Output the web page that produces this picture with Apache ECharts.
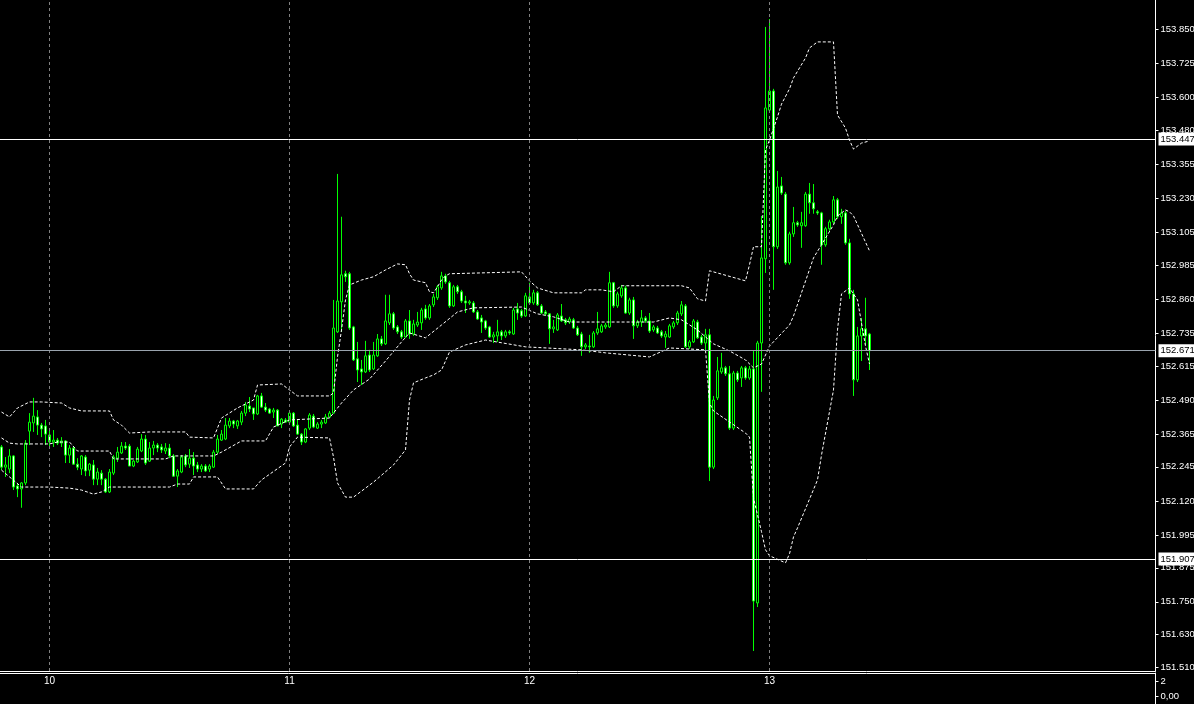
<!DOCTYPE html>
<html><head><meta charset="utf-8">
<script src="https://cdn.jsdelivr.net/npm/echarts@6/dist/echarts.min.js"></script>
<style>html,body{margin:0;padding:0;background:#000;}#c{width:1194px;height:704px;}</style>
</head><body><div id="c"></div>
<script>
// ---- data ----
const slotCount = 289;
const dayLabels = [[12, '10'], [72, '11'], [132, '12'], [192, '13']];
const priceTicks = [153.850, 153.725, 153.600, 153.480, 153.355, 153.230, 153.105, 152.985, 152.860, 152.735,
  152.615, 152.490, 152.365, 152.245, 152.120, 151.995, 151.875, 151.750, 151.630, 151.510];
const subTicks = [0, 2];
const hLines = [153.447, 151.907];
const bidLine = 152.671;
// [open, close, low, high]
const candles = [
[152.318,152.244,152.233,152.325],[152.244,152.252,152.208,152.281],[152.237,152.285,152.222,152.310],[152.285,152.171,152.160,152.288],
[152.175,152.164,152.134,152.186],[152.164,152.186,152.095,152.189],[152.186,152.332,152.178,152.343],[152.376,152.409,152.325,152.442],
[152.406,152.431,152.373,152.498],[152.428,152.398,152.362,152.453],[152.398,152.384,152.354,152.406],[152.395,152.365,152.325,152.417],
[152.362,152.336,152.318,152.380],[152.336,152.343,152.318,152.380],[152.343,152.332,152.325,152.351],[152.332,152.340,152.318,152.354],
[152.340,152.288,152.259,152.343],[152.288,152.314,152.259,152.325],[152.314,152.255,152.252,152.318],[152.255,152.244,152.233,152.277],
[152.237,152.285,152.215,152.288],[152.281,152.230,152.211,152.288],[152.233,152.255,152.211,152.259],[152.252,152.200,152.178,152.270],
[152.200,152.226,152.178,152.241],[152.222,152.200,152.178,152.233],[152.200,152.153,152.149,152.204],[152.153,152.226,152.149,152.237],
[152.222,152.281,152.215,152.288],[152.277,152.299,152.263,152.318],[152.296,152.321,152.292,152.336],[152.321,152.314,152.307,152.336],
[152.321,152.248,152.248,152.329],[152.248,152.266,152.244,152.270],[152.263,152.310,152.259,152.318],[152.303,152.347,152.299,152.365],
[152.347,152.259,152.252,152.362],[152.266,152.314,152.263,152.336],[152.314,152.325,152.288,152.340],[152.325,152.314,152.299,152.332],
[152.318,152.307,152.296,152.329],[152.303,152.314,152.292,152.332],[152.314,152.285,152.277,152.329],[152.285,152.211,152.208,152.292],
[152.211,152.230,152.171,152.237],[152.226,152.281,152.222,152.288],[152.285,152.252,152.244,152.292],[152.255,152.277,152.241,152.310],
[152.277,152.248,152.215,152.299],[152.252,152.237,152.226,152.263],[152.237,152.248,152.226,152.255],[152.248,152.230,152.226,152.255],
[152.237,152.248,152.226,152.255],[152.244,152.299,152.241,152.307],[152.299,152.347,152.292,152.362],[152.343,152.365,152.340,152.380],
[152.347,152.398,152.343,152.424],[152.395,152.413,152.387,152.424],[152.413,152.402,152.387,152.417],[152.395,152.413,152.384,152.417],
[152.409,152.442,152.398,152.450],[152.442,152.472,152.431,152.483],[152.468,152.457,152.446,152.501],[152.461,152.439,152.417,152.461],
[152.439,152.505,152.435,152.509],[152.505,152.464,152.461,152.516],[152.464,152.453,152.446,152.479],[152.457,152.442,152.439,152.461],
[152.446,152.453,152.424,152.461],[152.453,152.395,152.395,152.457],[152.402,152.420,152.387,152.424],[152.417,152.409,152.406,152.424],
[152.409,152.442,152.406,152.453],[152.442,152.395,152.391,152.446],[152.398,152.365,152.362,152.417],[152.365,152.336,152.325,152.369],
[152.336,152.384,152.332,152.387],[152.387,152.435,152.380,152.442],[152.431,152.391,152.387,152.439],[152.387,152.402,152.384,152.409],
[152.402,152.409,152.387,152.417],[152.406,152.428,152.402,152.439],[152.428,152.442,152.424,152.450],[152.442,152.754,152.439,152.857],
[152.740,152.853,152.736,153.319],[152.850,152.949,152.740,153.162],[152.953,152.942,152.923,152.964],[152.953,152.754,152.747,152.960],
[152.758,152.637,152.633,152.762],[152.641,152.600,152.556,152.703],[152.604,152.593,152.545,152.637],[152.593,152.652,152.589,152.707],
[152.655,152.600,152.593,152.674],[152.604,152.655,152.600,152.703],[152.652,152.714,152.648,152.732],[152.714,152.696,152.688,152.725],
[152.696,152.780,152.692,152.876],[152.773,152.806,152.765,152.876],[152.806,152.754,152.747,152.813],[152.758,152.740,152.732,152.765],
[152.740,152.721,152.714,152.747],[152.721,152.780,152.718,152.787],[152.780,152.732,152.714,152.820],[152.732,152.769,152.725,152.784],
[152.765,152.776,152.758,152.813],[152.773,152.820,152.747,152.828],[152.824,152.791,152.784,152.839],[152.791,152.835,152.784,152.842],
[152.839,152.868,152.831,152.879],[152.865,152.905,152.857,152.912],[152.901,152.945,152.894,152.960],[152.945,152.923,152.916,152.953],
[152.920,152.835,152.828,152.927],[152.835,152.905,152.831,152.912],[152.905,152.887,152.879,152.912],[152.887,152.853,152.846,152.894],
[152.853,152.846,152.809,152.872],[152.846,152.850,152.839,152.857],[152.846,152.813,152.809,152.853],[152.813,152.787,152.784,152.820],
[152.791,152.776,152.736,152.802],[152.780,152.754,152.747,152.784],[152.758,152.721,152.718,152.762],[152.721,152.729,152.699,152.740],
[152.725,152.740,152.703,152.784],[152.740,152.725,152.710,152.747],[152.725,152.740,152.718,152.747],[152.740,152.736,152.729,152.747],
[152.732,152.820,152.729,152.828],[152.824,152.809,152.784,152.846],[152.817,152.798,152.791,152.824],[152.798,152.872,152.795,152.883],
[152.868,152.846,152.839,152.920],[152.846,152.883,152.839,152.894],[152.883,152.839,152.835,152.890],[152.835,152.809,152.806,152.842],
[152.813,152.806,152.798,152.820],[152.806,152.751,152.696,152.809],[152.751,152.758,152.736,152.784],[152.747,152.802,152.743,152.809],
[152.798,152.780,152.776,152.842],[152.784,152.773,152.765,152.791],[152.776,152.787,152.769,152.795],[152.784,152.754,152.751,152.791],
[152.754,152.729,152.725,152.762],[152.732,152.685,152.652,152.740],[152.685,152.692,152.677,152.699],[152.688,152.685,152.663,152.729],
[152.685,152.736,152.681,152.743],[152.736,152.751,152.729,152.813],[152.740,152.762,152.736,152.769],[152.758,152.765,152.751,152.773],
[152.758,152.920,152.754,152.960],[152.920,152.835,152.828,152.923],[152.835,152.879,152.828,152.887],[152.872,152.901,152.865,152.912],
[152.901,152.809,152.806,152.909],[152.809,152.857,152.802,152.865],[152.857,152.762,152.714,152.868],[152.762,152.776,152.754,152.784],
[152.776,152.791,152.758,152.820],[152.791,152.780,152.773,152.798],[152.780,152.743,152.736,152.809],[152.747,152.758,152.740,152.765],
[152.754,152.736,152.732,152.762],[152.740,152.725,152.718,152.747],[152.721,152.732,152.681,152.743],[152.721,152.762,152.718,152.769],
[152.758,152.773,152.751,152.780],[152.773,152.809,152.765,152.817],[152.806,152.839,152.798,152.853],[152.835,152.685,152.681,152.842],
[152.685,152.703,152.677,152.710],[152.703,152.780,152.699,152.787],[152.776,152.718,152.714,152.784],[152.721,152.699,152.692,152.729],
[152.699,152.729,152.666,152.751],[152.729,152.244,152.193,152.751],[152.244,152.490,152.237,152.505],[152.498,152.597,152.490,152.648],
[152.593,152.608,152.586,152.663],[152.608,152.586,152.578,152.615],[152.586,152.387,152.380,152.615],[152.387,152.589,152.380,152.597],
[152.589,152.564,152.556,152.597],[152.571,152.608,152.538,152.615],[152.608,152.571,152.564,152.615],[152.571,152.604,152.564,152.615],
[152.604,151.753,151.570,152.670],[151.746,152.699,151.731,152.707],[152.699,153.011,152.520,153.165],[153.008,153.561,152.956,153.858],
[153.553,153.623,153.546,153.887],[153.623,153.052,152.894,153.631],[153.052,153.271,153.044,153.330],[153.275,153.249,153.242,153.308],
[153.245,152.993,152.986,153.253],[152.993,153.099,152.986,153.107],[153.099,153.140,153.088,153.198],[153.140,153.132,153.125,153.147],
[153.129,153.140,153.048,153.180],[153.129,153.245,153.125,153.253],[153.245,153.213,153.173,153.286],[153.213,153.191,153.173,153.282],
[153.180,153.176,153.169,153.187],[153.176,153.059,152.986,153.180],[153.059,153.118,153.052,153.125],[153.118,153.143,153.110,153.151],
[153.143,153.224,153.136,153.238],[153.224,153.162,153.154,153.231],[153.162,153.176,153.136,153.191],[153.176,153.066,153.059,153.184],
[153.066,152.879,152.861,153.081],[152.879,152.564,152.505,152.894],[152.564,152.725,152.556,152.758],[152.725,152.751,152.633,152.791],
[152.751,152.725,152.692,152.865],[152.732,152.671,152.600,152.736]
];
// Bollinger bands: [bar index, price]
const bbUpper = [[0,152.446],[2,152.428],[4,152.461],[7,152.483],[10,152.483],[15,152.479],[17,152.461],[20,152.450],[27,152.450],
[28,152.417],[30,152.398],[32,152.369],[37,152.373],[46,152.373],[47,152.354],[53,152.351],[55,152.424],[59,152.461],[63,152.490],
[64,152.545],[70,152.549],[72,152.527],[74,152.505],[82,152.505],[83,152.516],[84,152.648],[85,152.747],[86,152.857],[87,152.912],
[90,152.930],[93,152.942],[96,152.967],[99,152.989],[101,152.986],[102,152.953],[103,152.930],[106,152.920],[107,152.887],[108,152.883],
[109,152.905],[110,152.930],[111,152.945],[112,152.953],[130,152.960],[132,152.927],[134,152.901],[138,152.883],[145,152.883],[146,152.894],
[150,152.894],[153,152.887],[155,152.909],[170,152.909],[172,152.901],[174,152.861],[176,152.853],[177,152.964],[186,152.927],[187,152.986],
[188,153.052],[190,153.052],[191,153.407],[192,153.443],[194,153.528],[195,153.575],[197,153.631],[198,153.671],[201,153.744],[202,153.781],
[204,153.803],[208,153.803],[209,153.535],[211,153.487],[212,153.443],[213,153.410],[215,153.432],[217,153.440]];
const bbMiddle = [[0,152.351],[2,152.332],[4,152.329],[12,152.329],[14,152.336],[17,152.336],[19,152.303],[27,152.303],[28,152.274],
[41,152.274],[43,152.285],[53,152.285],[55,152.299],[60,152.340],[66,152.340],[68,152.391],[72,152.417],[82,152.424],[85,152.479],
[88,152.527],[92,152.567],[96,152.633],[100,152.703],[102,152.736],[106,152.718],[110,152.765],[114,152.813],[118,152.828],[130,152.831],
[134,152.806],[138,152.795],[142,152.776],[150,152.776],[163,152.776],[167,152.791],[170,152.784],[174,152.747],[178,152.696],[182,152.670],
[186,152.637],[188,152.608],[190,152.622],[192,152.688],[197,152.765],[198,152.798],[203,153.011],[208,153.132],[209,153.165],[211,153.187],
[212,153.180],[213,153.165],[217,153.037]];
const bbLower = [[0,152.233],[5,152.171],[12,152.171],[17,152.167],[20,152.160],[23,152.145],[25,152.153],[27,152.171],[42,152.171],
[44,152.182],[47,152.182],[48,152.208],[54,152.208],[56,152.164],[63,152.164],[65,152.197],[71,152.259],[72,152.318],[74,152.354],
[82,152.351],[83,152.281],[84,152.186],[86,152.134],[88,152.134],[93,152.189],[98,152.252],[101,152.307],[102,152.490],[103,152.553],
[106,152.571],[108,152.582],[110,152.600],[112,152.666],[116,152.692],[121,152.710],[131,152.685],[145,152.674],[151,152.663],[162,152.648],
[167,152.681],[176,152.674],[177,152.479],[178,152.450],[186,152.369],[187,152.354],[188,152.131],[190,152.007],[191,151.941],[192,151.919],
[196,151.893],[197,151.926],[198,151.988],[199,152.021],[204,152.197],[205,152.288],[208,152.527],[209,152.747],[210,152.879],[212,152.901],
[214,152.857],[216,152.688],[217,152.622]];

// ---- chart ----
const labelAt = {};
dayLabels.forEach(d => { labelAt[d[0]] = d[1]; });
const categories = Array.from({length: slotCount}, (_, i) => labelAt[i] || '');
const FONT = '"Liberation Sans", Arial, sans-serif';
function boxLabel(v) {
  return {
    show: true, position: 'end', distance: 3, formatter: () => v.toFixed(3),
    color: '#000', backgroundColor: '#fff', fontSize: 9.5, fontFamily: FONT, padding: [2, 2, 1, 2]
  };
}
const markData = dayLabels.map(d => ({xAxis: d[0], label: {show: false},
  lineStyle: {color: '#808080', width: 1, type: [3, 3]}}));
hLines.forEach(v => markData.push({yAxis: v, label: boxLabel(v), lineStyle: {color: '#ffffff', width: 1, type: 'solid'}}));
markData.push({yAxis: bidLine, label: boxLabel(bidLine), lineStyle: {color: '#9aa4ae', width: 1, type: 'solid'}});

const bandStyle = {color: '#ffffff', width: 1, type: [3, 2]};
const chart = echarts.init(document.getElementById('c'));
chart.setOption({
  backgroundColor: '#000',
  animation: false,
  grid: [
    {left: -0.5, top: 0, width: 1156, height: 671, containLabel: false, outerBoundsMode: 'none'},
    {left: -0.5, top: 673, width: 1156, height: 31, containLabel: false, outerBoundsMode: 'none'}
  ],
  xAxis: [
    {type: 'category', gridIndex: 0, data: categories, boundaryGap: true,
     axisLine: {show: true, onZero: false, lineStyle: {color: '#fff', width: 1}}, axisTick: {show: false},
     axisLabel: {interval: (i, v) => v !== '', color: '#fff', fontSize: 10, fontFamily: FONT, margin: 5},
     splitLine: {show: false}},
    {type: 'category', gridIndex: 1, data: categories, position: 'top',
     axisLine: {show: true, onZero: false, lineStyle: {color: '#fff', width: 1}}, axisTick: {show: false},
     axisLabel: {show: false}, splitLine: {show: false}}
  ],
  yAxis: [
    {type: 'value', gridIndex: 0, position: 'right', min: 151.4965, max: 153.9567, scale: true,
     axisLine: {show: true, lineStyle: {color: '#fff', width: 1}},
     axisTick: {show: true, customValues: priceTicks, length: 3, lineStyle: {color: '#fff'}},
     axisLabel: {customValues: priceTicks, formatter: v => v.toFixed(3), color: '#fff', fontSize: 9.5, fontFamily: FONT, margin: 5},
     splitLine: {show: false}},
    {type: 'value', gridIndex: 1, position: 'right', min: -1.0667, max: 3.0667,
     axisLine: {show: true, lineStyle: {color: '#fff', width: 1}},
     axisTick: {show: true, customValues: subTicks, length: 3, lineStyle: {color: '#fff'}},
     axisLabel: {customValues: subTicks, formatter: v => (v === 0 ? '0,00' : String(v)), color: '#fff', fontSize: 9.5, fontFamily: FONT, margin: 5},
     splitLine: {show: false}}
  ],
  series: [
    {type: 'candlestick', xAxisIndex: 0, yAxisIndex: 0, data: candles, barWidth: 2, silent: true,
     itemStyle: {color: '#000000', color0: '#ffffff', borderColor: '#00ff00', borderColor0: '#00ff00', borderWidth: 1},
     markLine: {symbol: ['none', 'none'], silent: true, animation: false, precision: 3, data: markData}},
    {type: 'line', xAxisIndex: 0, yAxisIndex: 0, data: bbUpper, showSymbol: false, silent: true, lineStyle: bandStyle, z: 3},
    {type: 'line', xAxisIndex: 0, yAxisIndex: 0, data: bbMiddle, showSymbol: false, silent: true, lineStyle: bandStyle, z: 3},
    {type: 'line', xAxisIndex: 0, yAxisIndex: 0, data: bbLower, showSymbol: false, silent: true, lineStyle: bandStyle, z: 3}
  ]
});
</script>
</body></html>
